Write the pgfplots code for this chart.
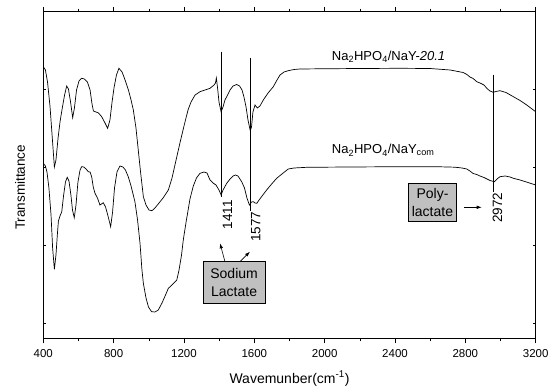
\documentclass[border=0pt]{standalone}
\usepackage{pgfplots}
\pgfplotsset{compat=1.18}
\usepackage{pgfplotstable}
\usepackage{fontspec}
\setmainfont{Liberation Sans}
\usetikzlibrary{arrows.meta}
\definecolor{boxgray}{RGB}{192,192,192}

\pgfplotstableread{
x y
400 271.6
412 268.3
424 256.3
438 232.3
452 198.3
463 171.3
472 178.3
484 200.3
495 216.3
506 228.3
521 243.3
533 252.3
543 249.3
555 236.3
567 220.6
577 230.3
589 248.3
603 257.3
618 260.0
634 259.3
651 256.3
666 248.3
677 234.3
685 227.3
700 226.3
714 225.3
732 221.6
748 216.3
766 210.0
779 218.3
791 236.3
802 250.3
816 263.3
830 270.0
848 266.3
867 257.3
884 248.3
899 238.3
912 228.3
927 210.3
940 188.3
953 166.3
969 141.6
984 133.3
1001 128.3
1018 127.6
1035 130.3
1058 135.3
1081 140.3
1111 148.3
1132 160.3
1155 178.3
1177 195.3
1200 212.3
1223 228.3
1240 236.3
1263 243.3
1291 246.6
1320 248.3
1348 250.0
1371 253.3
1379 255.3
1384 260.3
1391 250.3
1399 236.3
1411 226.6
1422 231.3
1433 238.3
1445 242.3
1462 248.3
1479 252.3
1500 253.8
1516 252.3
1530 248.3
1541 241.3
1553 231.3
1564 218.3
1577 207.6
1584 211.3
1592 226.3
1604 233.3
1617 230.3
1632 232.3
1651 238.3
1678 245.3
1708 251.6
1729 258.3
1746 263.3
1769 266.3
1793 267.6
1826 268.8
1860 269.3
1973 269.5
2201 269.8
2428 270.0
2599 269.8
2713 268.3
2758 266.8
2787 265.8
2809 263.8
2826 261.3
2844 259.8
2865 256.6
2883 255.3
2906 253.3
2923 249.8
2940 247.3
2959 246.0
2974 246.8
2997 247.6
3031 245.8
3073 241.6
3111 237.8
3149 233.3
3179 229.3
3200 226.6
}\upperdata

\pgfplotstableread{
x y
400 175.0
412 172.3
421 166.3
432 150.3
444 123.3
453 90.3
463 69.0
472 83.3
481 106.3
486 117.3
495 122.3
505 126.6
515 142.3
526 156.3
536 161.0
546 157.3
557 143.3
566 128.3
576 120.6
586 133.3
597 156.3
609 168.3
618 171.6
631 171.3
643 169.3
656 166.6
666 166.3
675 161.6
684 151.3
694 145.0
708 140.3
722 133.3
731 134.3
741 135.6
754 131.3
768 122.3
783 111.6
794 126.3
805 150.3
819 166.3
836 172.3
853 171.3
867 168.3
883 161.6
899 152.3
913 142.3
921 136.6
936 118.3
950 95.0
961 68.3
969 55.0
984 40.3
998 31.3
1016 26.6
1035 26.3
1054 28.3
1075 35.3
1095 43.3
1111 50.0
1126 52.3
1143 55.3
1159 58.3
1172 68.3
1186 83.3
1196 98.3
1212 116.3
1234 139.3
1253 152.3
1271 160.3
1291 165.0
1314 166.3
1331 165.3
1348 158.3
1365 155.3
1382 153.3
1399 148.3
1411 143.3
1422 148.3
1443 155.0
1462 159.3
1479 162.3
1493 163.3
1507 162.3
1528 156.6
1544 150.3
1558 140.3
1572 133.3
1584 136.3
1594 136.6
1604 135.3
1614 135.0
1627 138.3
1644 142.3
1670 148.3
1696 153.8
1727 160.0
1757 164.3
1793 169.3
1826 170.3
1898 171.0
2144 171.3
2428 171.6
2656 171.5
2741 171.1
2781 170.3
2808 169.3
2826 167.3
2844 164.8
2865 163.8
2883 162.3
2906 160.8
2923 159.3
2940 157.8
2965 156.6
2980 159.3
2997 161.6
3026 162.3
3054 161.3
3073 160.0
3111 158.3
3156 155.8
3200 153.3
}\lowerdata

\begin{document}
\begin{tikzpicture}
\path[use as bounding box] (-43.3bp,-48.7bp) rectangle (504.7bp,338.3bp);
\begin{axis}[
  at={(0,0)}, anchor=south west,
  width=492.4bp, height=326.6bp, scale only axis,
  xmin=400, xmax=3200, ymin=0, ymax=326.6,
  xtick={400,800,...,3200},
  minor x tick num=1,
  ytick=\empty,
  extra y ticks={15.3,93.3,171.3,249.3},
  extra y tick labels={},
  extra y tick style={major tick length=3bp, tick align=inside},
  xtick align=outside,
  xtick pos=both, ytick pos=both,
  xticklabel pos=bottom,
  major tick length=5bp, minor tick length=3bp,
  tick style={black, line width=0.6bp},
  axis line style={line width=0.8bp},
  /pgf/number format/assume math mode=true,
  /pgf/number format/set thousands separator={},
  tick label style={font=\fontsize{11.5bp}{13bp}\selectfont},
  xticklabel style={yshift=-3bp},
  xlabel={Wavemunber(cm\textsuperscript{-1})},
  ylabel={Transmittance},
  xlabel style={font=\fontsize{14bp}{16bp}\selectfont, at={(axis description cs:0.5,0)}, anchor=base, yshift=-44.7bp},
  ylabel style={font=\fontsize{13.5bp}{15bp}\selectfont, at={(axis description cs:-0.0473,0.462)}, anchor=center},
]
\addplot[black, line width=0.7bp] table {\upperdata};
\addplot[black, line width=0.7bp] table {\lowerdata};

\draw[line width=0.6bp] (axis cs:1413,286.6) -- (axis cs:1413,141);
\draw[line width=0.6bp] (axis cs:1575,280) -- (axis cs:1575,127);
\draw[line width=0.6bp] (axis cs:2959,263.3) -- (axis cs:2959,146.6);

\node[anchor=base west, inner sep=0pt, font=\fontsize{13bp}{16bp}\selectfont] at (axis cs:2040,277.8) {Na\textsubscript{2}HPO\textsubscript{4}/NaY-\textit{20.1}};
\node[anchor=base west, inner sep=0pt, font=\fontsize{13bp}{16bp}\selectfont] at (axis cs:2040,184.3) {Na\textsubscript{2}HPO\textsubscript{4}/NaY\textsubscript{com}};

\node[rotate=90, anchor=east, inner sep=0pt, font=\fontsize{13.5bp}{16bp}\selectfont] at (axis cs:1447,138.3) {1411};
\node[rotate=90, anchor=east, inner sep=0pt, font=\fontsize{13.5bp}{16bp}\selectfont] at (axis cs:1608,126.6) {1577};
\node[rotate=90, anchor=east, inner sep=0pt, font=\fontsize{13.5bp}{16bp}\selectfont] at (axis cs:2983,145.8) {2972};

\node[draw, fill=boxgray, line width=0.6bp, minimum width=61.7bp, minimum height=41.6bp, inner sep=0pt, align=center, font=\fontsize{14bp}{18bp}\selectfont] at (axis cs:1485,55.8) {Sodium\\Lactate};
\node[draw, fill=boxgray, line width=0.6bp, minimum width=48.4bp, minimum height=38.4bp, inner sep=0pt, align=center, font=\fontsize{14bp}{18bp}\selectfont] at (axis cs:2613,135.8) {Poly-\\lactate};

\draw[-{Latex[length=5bp,width=3.5bp]}, line width=0.6bp] (axis cs:1433,76.6) -- (axis cs:1405,95);
\draw[-{Latex[length=5bp,width=3.5bp]}, line width=0.6bp] (axis cs:1518,76.6) -- (axis cs:1575,86.6);
\draw[-{Latex[length=5bp,width=3.5bp]}, line width=0.6bp] (axis cs:2794,131) -- (axis cs:2893,131);
\end{axis}
\end{tikzpicture}
\end{document}
